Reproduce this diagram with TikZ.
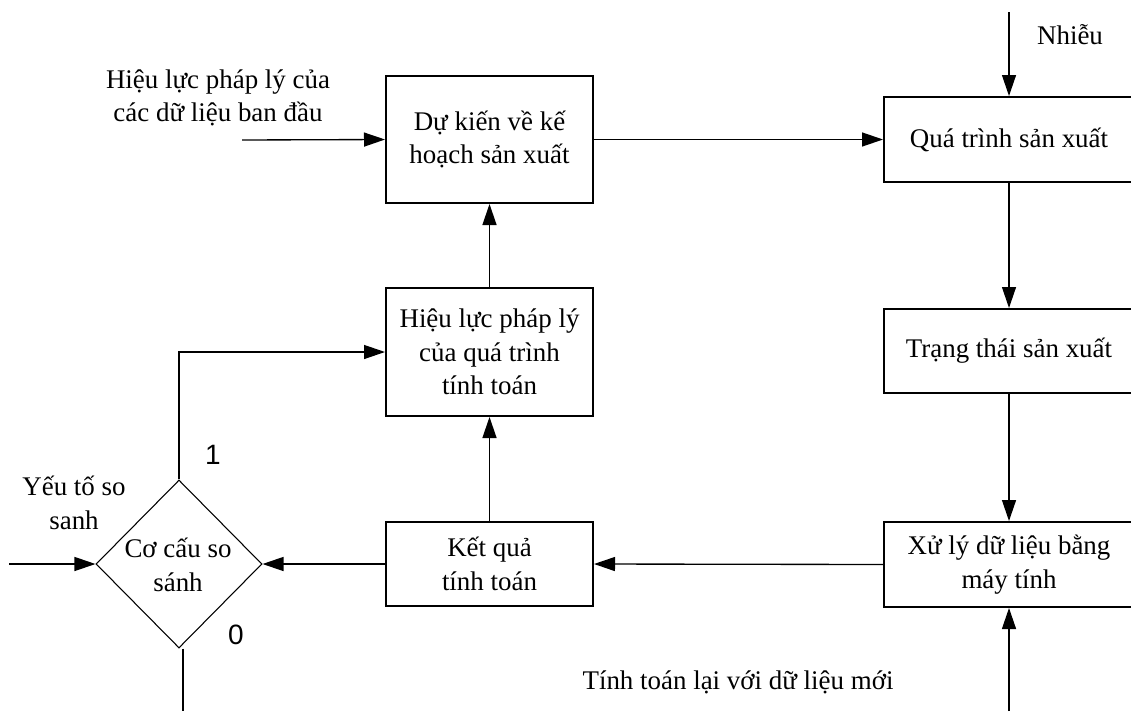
\documentclass[tikz,border=0pt]{standalone}
\usepackage{fontspec}
\setmainfont{Liberation Serif}
\newfontfamily\numfont{Liberation Sans}
\usetikzlibrary{arrows.meta,shapes.geometric}

\begin{document}
\begin{tikzpicture}[
  x=0.75pt, y=-0.75pt,
  every node/.style={font=\fontsize{20.2}{25}\selectfont, align=center, inner sep=0pt},
  block/.style={draw, line width=1.5pt, rectangle},
  narrowblock/.style={block, minimum width=155.25pt},
  wideblock/.style={block, minimum width=187.5pt, minimum height=63.75pt},
  decision/.style={draw, line width=0.8pt, diamond, minimum width=124.5pt, minimum height=126pt},
  flow/.style={line width=1pt, -{Triangle[length=15.75pt, width=10.5pt]}},
  plain/.style={line width=1pt},
  digit/.style={font=\numfont\fontsize{21}{24}\selectfont}
]
\useasboundingbox (0,0) rectangle (1131,711);
\clip (0,0) rectangle (1131,711);

% main blocks
\node[narrowblock, minimum height=95.25pt] (plan) at (489.5,139.5) {Dự kiến về kế\\hoạch sản xuất};
\node[narrowblock, minimum height=96pt] (valid) at (489.5,352) {Hiệu lực pháp lý\\của quá trình\\tính toán};
\node[narrowblock, minimum height=63pt] (result) at (489.5,564) {Kết quả\\tính toán};
\node[wideblock] (process) at (1009,139.5) {Quá trình sản xuất};
\node[wideblock, minimum height=63pt] (state) at (1009,351) {Trạng thái sản xuất};
\node[wideblock] (compute) at (1009,564.5) {Xử lý dữ liệu bằng\\máy tính};

% comparator
\node[decision] (cmp) at (179,564) {};
\node (cmptext) at (178,565) {Cơ cấu so\\sánh};

% free ends of the connectors
\coordinate (initin) at (242,140);
\coordinate (noisein) at (1009,12);
\coordinate (recalcin) at (1009,711);
\coordinate (refin) at (9,564);
\coordinate (zeroout) at (183,711);

% labels
\node (initlbl) at (218,98) {Hiệu lực pháp lý của\\các dữ liệu ban đầu};
\node (noiselbl) at (1070,35) {Nhiễu};
\node (reflbl) at (74,503) {Yếu tố so\\sanh};
\node[digit] (onelbl) at (213,455) {1};
\node[digit] (zerolbl) at (236,635) {0};
\node (recalclbl) at (738,682) {Tính toán lại với dữ liệu mới};

% connectors
\draw[flow] (initin) -- (plan.west);
\draw[flow] (plan.east) -- (process.west);
\draw[flow] (noisein) -- (process.north);
\draw[flow] (process.south) -- (state.north);
\draw[flow] (state.south) -- (compute.north);
\draw[flow] (recalcin) -- (compute.south);
\draw[flow] (compute.west) -- (result.east);
\draw[flow] (result.west) -- (cmp.east);
\draw[flow] (result.north) -- (valid.south);
\draw[flow] (valid.north) -- (plan.south);
\draw[flow] (refin) -- (cmp.west);
\draw[flow] (cmp.north) |- (valid.west);
\draw[plain] (zeroout |- cmp.south) -- (zeroout);

\end{tikzpicture}
\end{document}
